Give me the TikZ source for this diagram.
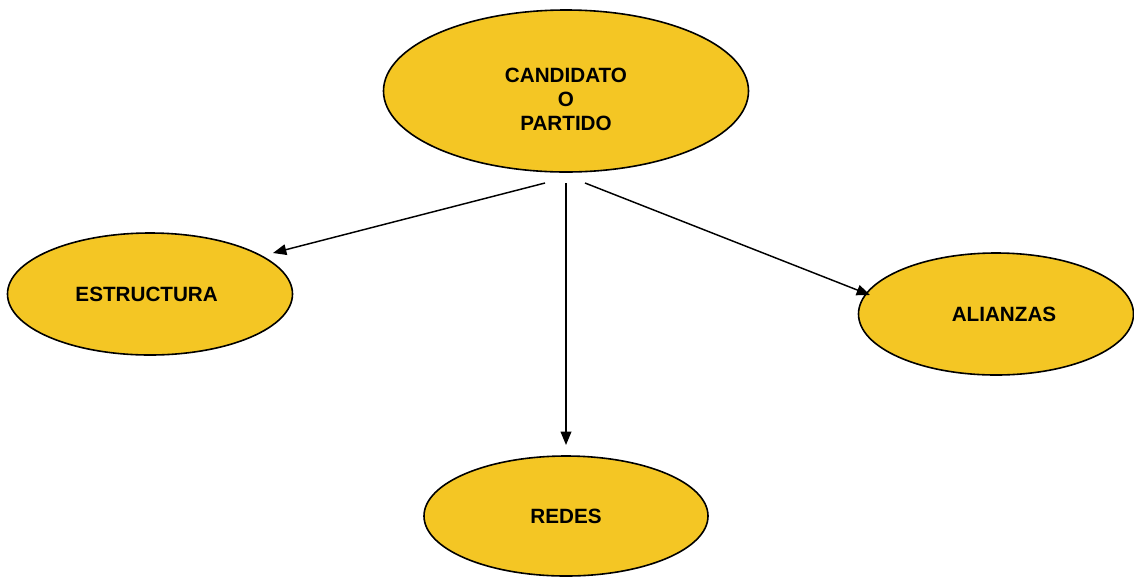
\documentclass[tikz,border=0pt]{standalone}
\usepackage{fontspec}
\setmainfont{Liberation Sans}
\usetikzlibrary{shapes.geometric,arrows.meta}
\definecolor{oro}{RGB}{244,198,36}
\begin{document}
\begin{tikzpicture}[x=0.75pt,y=-0.75pt,
    elipse/.style={ellipse,draw=black,line width=1.2pt,fill=oro,inner sep=0pt,
        font=\fontsize{15.5}{18}\selectfont\bfseries,align=center},
    flecha/.style={line width=1.1pt,-{Triangle[length=10pt,width=8pt]}}]
    \useasboundingbox (0,0) rectangle (1134,576);

    \node[elipse,minimum width=273.75pt,minimum height=121.5pt] (cand) at (566,91)
        {\rule{0pt}{23pt}CANDIDATO\\O\\PARTIDO};
    \node[elipse,minimum width=213.75pt,minimum height=91.5pt] (estr) at (150,294) {ESTRUCTURA\hspace*{5pt}};
    \node[elipse,minimum width=206.25pt,minimum height=91.5pt] (alia) at (996,314) {\hspace*{12pt}ALIANZAS};
    \node[elipse,minimum width=213pt,minimum height=90pt] (redes) at (566,516) {REDES};

    \coordinate (s1) at (545,183);
    \coordinate (s2) at (566,183);
    \coordinate (s3) at (585,183);
    \coordinate (e1) at (273,253);
    \coordinate (e2) at (566,445);
    \coordinate (e3) at (870,295);

    \draw[flecha] (s1)--(e1);
    \draw[flecha] (s2)--(e2);
    \draw[flecha] (s3)--(e3);

\end{tikzpicture}
\end{document}
